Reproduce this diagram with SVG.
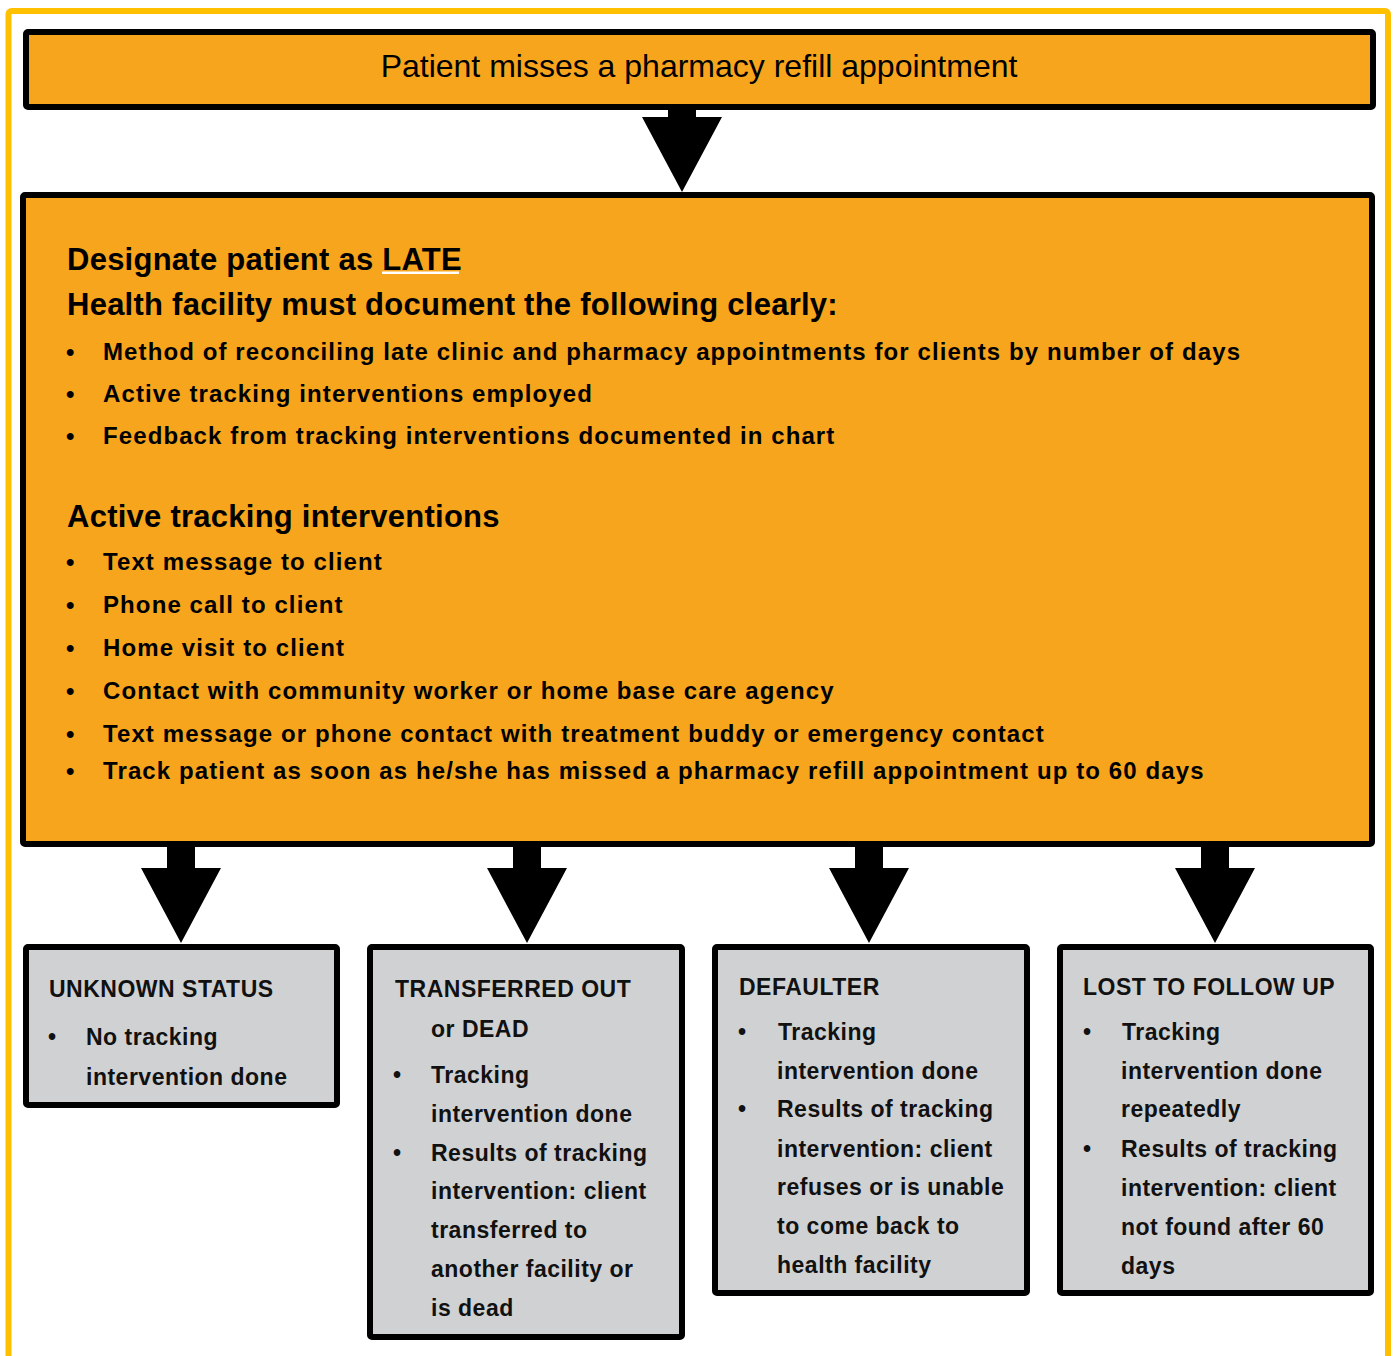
<svg xmlns="http://www.w3.org/2000/svg" width="1397" height="1356" viewBox="0 0 1397 1356">
<style>
  .frame{fill:none;stroke:#FFC000;stroke-width:6}
  .orange{fill:#F7A51C;stroke:#000;stroke-width:6}
  .gray{fill:#D0D1D3;stroke:#000;stroke-width:6}
  .arrow{fill:#000}
  text{font-family:"Liberation Sans",Arial,sans-serif;fill:#000}
  .hdr{font-size:32px}
  .h1{font-size:31px;font-weight:bold;letter-spacing:0.25px}
  .b1{font-size:24px;font-weight:bold;letter-spacing:1.1px}
  .b2{font-size:23px;font-weight:bold;fill:#111;letter-spacing:0.5px}
</style>
<rect width="1397" height="1356" fill="#fff"/>
<rect class="frame" x="8.5" y="11" width="1379.5" height="1400" rx="3"/>

<g id="connectors">
  <polygon class="arrow" points="668,107 696,107 696,117 722,117 682,192 642,117 668,117"/>
  <polygon class="arrow" points="167,846 195,846 195,868 221,868 181,943 141,868 167,868"/>
  <polygon class="arrow" points="513,846 541,846 541,868 567,868 527,943 487,868 513,868"/>
  <polygon class="arrow" points="855,846 883,846 883,868 909,868 869,943 829,868 855,868"/>
  <polygon class="arrow" points="1201,846 1229,846 1229,868 1255,868 1215,943 1175,868 1201,868"/>
</g>

<g id="header">
  <rect class="orange" x="26" y="32" width="1347" height="75" rx="2"/>
  <text class="hdr" x="699" y="77" text-anchor="middle">Patient misses a pharmacy refill appointment</text>
</g>

<g id="late">
  <rect class="orange" x="23" y="195" width="1349" height="649" rx="2"/>
  <text class="h1" x="67" y="270">Designate patient as LATE</text>
  <rect x="382" y="271.5" width="77" height="2.5" fill="#fff"/>
  <text class="h1" x="67" y="315">Health facility must document the following clearly:</text>
  <text class="b1" x="66" y="360">•</text><text class="b1" x="103" y="360">Method of reconciling late clinic and pharmacy appointments for clients by number of days</text>
  <text class="b1" x="66" y="402">•</text><text class="b1" x="103" y="402">Active tracking interventions employed</text>
  <text class="b1" x="66" y="444">•</text><text class="b1" x="103" y="444">Feedback from tracking interventions documented in chart</text>
  <text class="h1" x="67" y="527">Active tracking interventions</text>
  <text class="b1" x="66" y="570">•</text><text class="b1" x="103" y="570">Text message to client</text>
  <text class="b1" x="66" y="613">•</text><text class="b1" x="103" y="613">Phone call to client</text>
  <text class="b1" x="66" y="656">•</text><text class="b1" x="103" y="656">Home visit to client</text>
  <text class="b1" x="66" y="699">•</text><text class="b1" x="103" y="699">Contact with  community worker or home base care agency</text>
  <text class="b1" x="66" y="742">•</text><text class="b1" x="103" y="742">Text message or phone contact with  treatment buddy or emergency contact</text>
  <text class="b1" x="66" y="779">•</text><text class="b1" x="103" y="779">Track patient as soon as he/she has missed a pharmacy refill appointment up to 60 days</text>
</g>

<g id="unknown">
  <rect class="gray" x="26" y="947" width="311" height="158" rx="2"/>
  <text class="b2" x="49" y="997">UNKNOWN STATUS</text>
  <text class="b2" x="48" y="1045">•</text>
  <text class="b2" x="86" y="1045">No tracking</text>
  <text class="b2" x="86" y="1085">intervention done</text>
</g>

<g id="transferred">
  <rect class="gray" x="370" y="947" width="312" height="390" rx="2"/>
  <text class="b2" x="395" y="997">TRANSFERRED OUT</text>
  <text class="b2" x="431" y="1037">or DEAD</text>
  <text class="b2" x="393" y="1083">•</text>
  <text class="b2" x="431" y="1083">Tracking</text>
  <text class="b2" x="431" y="1122">intervention done</text>
  <text class="b2" x="393" y="1161">•</text>
  <text class="b2" x="431" y="1161">Results of tracking</text>
  <text class="b2" x="431" y="1199">intervention: client</text>
  <text class="b2" x="431" y="1238">transferred to</text>
  <text class="b2" x="431" y="1277">another facility or</text>
  <text class="b2" x="431" y="1316">is dead</text>
</g>

<g id="defaulter">
  <rect class="gray" x="715" y="947" width="312" height="346" rx="2"/>
  <text class="b2" x="739" y="995">DEFAULTER</text>
  <text class="b2" x="738" y="1040">•</text>
  <text class="b2" x="778" y="1040">Tracking</text>
  <text class="b2" x="777" y="1079">intervention done</text>
  <text class="b2" x="738" y="1117">•</text>
  <text class="b2" x="777" y="1117">Results of tracking</text>
  <text class="b2" x="777" y="1157">intervention: client</text>
  <text class="b2" x="777" y="1195">refuses or is unable</text>
  <text class="b2" x="777" y="1234">to come back to</text>
  <text class="b2" x="777" y="1273">health facility</text>
</g>

<g id="lost">
  <rect class="gray" x="1060" y="947" width="311" height="346" rx="2"/>
  <text class="b2" x="1083" y="995">LOST TO FOLLOW UP</text>
  <text class="b2" x="1083" y="1040">•</text>
  <text class="b2" x="1122" y="1040">Tracking</text>
  <text class="b2" x="1121" y="1079">intervention done</text>
  <text class="b2" x="1121" y="1117">repeatedly</text>
  <text class="b2" x="1083" y="1157">•</text>
  <text class="b2" x="1121" y="1157">Results of tracking</text>
  <text class="b2" x="1121" y="1196">intervention: client</text>
  <text class="b2" x="1121" y="1235">not found after 60</text>
  <text class="b2" x="1121" y="1274">days</text>
</g>
</svg>
